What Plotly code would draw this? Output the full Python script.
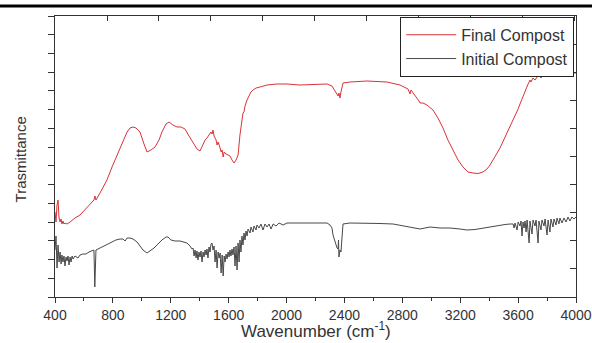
import plotly.graph_objects as go

# Final Compost (red) – wavenumber (cm-1) and transmittance (arbitrary units)
final_wn = [
    400, 407, 414, 421, 428, 435, 442, 448, 455, 462,
    469, 483, 504, 538, 573, 607, 642, 669, 676, 683,
    711, 759, 794, 828, 863, 884, 898, 918, 939, 960,
    987, 1015, 1036, 1063, 1091, 1119, 1139, 1167, 1188, 1215,
    1243, 1271, 1298, 1326, 1354, 1381, 1402, 1423, 1437, 1450,
    1464, 1478, 1485, 1492, 1499, 1513, 1520, 1527, 1541, 1548,
    1555, 1562, 1569, 1582, 1596, 1609, 1623, 1637, 1651, 1665,
    1678, 1692, 1699, 1706, 1713, 1727, 1741, 1754, 1768, 1789,
    1817, 1865, 1934, 2003, 2093, 2280, 2314, 2342, 2356, 2362,
    2369, 2376, 2390, 2438, 2556, 2694, 2784, 2839, 2853, 2860,
    2888, 2915, 2922, 2943, 2970, 3012, 3046, 3081, 3115, 3150,
    3185, 3219, 3254, 3288, 3323, 3357, 3385, 3406, 3440, 3475,
    3510, 3544, 3565, 3579, 3600, 3613, 3634, 3655, 3669, 3682,
    3689, 3703, 3717, 3731, 3744, 3758, 3772, 3786, 3800, 3813,
    3827, 3841, 3855, 3869, 3882, 3903, 3924, 3945, 3966, 3987,
    4000,
]
final_t = [
    85, 75, 92, 97, 79, 75, 78, 73, 76, 73,
    74, 73, 75, 79, 82, 87, 93, 97, 101, 97,
    104, 117, 130, 141, 154, 160, 165, 169, 170, 169,
    165, 153, 145, 147, 150, 157, 165, 173, 175, 172,
    170, 170, 168, 161, 154, 148, 146, 152, 157, 159,
    162, 165, 163, 167, 161, 157, 152, 155, 149, 145,
    147, 140, 145, 143, 142, 141, 137, 134, 137, 142,
    162, 180, 184, 185, 191, 197, 201, 205, 207, 209,
    210, 212, 213, 213, 212, 213, 211, 205, 201, 204,
    199, 205, 214, 215, 216, 215, 212, 208, 203, 207,
    202, 196, 194, 194, 192, 187, 179, 169, 157, 147,
    137, 130, 125, 124, 123.5, 125, 128, 132, 140, 149,
    160, 170, 177, 181, 188, 193, 201, 209, 213, 217,
    215, 219, 217, 220, 222, 219, 223, 221, 223, 220,
    222, 220, 223, 221, 222, 221, 223, 223, 224, 224,
    224,
]

# Initial Compost (grey)
initial_wn = [
    400, 407, 414, 421, 428, 435, 442, 448, 455, 462,
    469, 476, 483, 490, 497, 504, 511, 518, 525, 538,
    559, 573, 593, 614, 635, 656, 669, 675, 683, 711,
    739, 766, 794, 821, 849, 870, 884, 898, 918, 939,
    967, 987, 1008, 1036, 1056, 1084, 1112, 1139, 1167, 1181,
    1201, 1229, 1264, 1291, 1312, 1333, 1347, 1354, 1361, 1368,
    1375, 1381, 1388, 1395, 1402, 1409, 1416, 1423, 1430, 1437,
    1444, 1450, 1457, 1464, 1471, 1478, 1485, 1492, 1499, 1506,
    1513, 1520, 1527, 1534, 1541, 1548, 1555, 1562, 1569, 1575,
    1582, 1589, 1596, 1603, 1609, 1616, 1623, 1630, 1637, 1644,
    1651, 1658, 1665, 1672, 1678, 1685, 1692, 1699, 1706, 1713,
    1720, 1727, 1734, 1748, 1754, 1768, 1775, 1789, 1796, 1810,
    1823, 1837, 1851, 1865, 1879, 1893, 1907, 1927, 1948, 1976,
    2003, 2072, 2162, 2280, 2300, 2314, 2321, 2335, 2349, 2356,
    2359, 2362, 2369, 2376, 2383, 2390, 2438, 2556, 2646, 2736,
    2819, 2888, 2922, 2957, 2991, 3060, 3129, 3199, 3247, 3302,
    3357, 3406, 3475, 3510, 3544, 3565, 3572, 3579, 3593, 3600,
    3613, 3620, 3627, 3634, 3641, 3648, 3655, 3662, 3676, 3682,
    3696, 3703, 3717, 3724, 3738, 3744, 3758, 3765, 3779, 3786,
    3800, 3807, 3820, 3827, 3841, 3848, 3862, 3869, 3882, 3889,
    3903, 3917, 3931, 3945, 3958, 3972, 3986, 4000,
]
initial_t = [
    47, 61, 29, 52, 35, 45, 33, 42, 35, 41,
    31, 40, 36, 41, 32, 40, 35, 41, 38, 41,
    39, 42, 43, 43, 45, 46, 47, 10, 47, 49,
    51, 53, 55, 57, 58, 58, 56, 59, 59, 58,
    55, 51, 47, 44, 46, 49, 53, 57, 60, 60,
    57, 56, 56, 55, 54, 51, 48, 49, 41, 47,
    39, 46, 37, 45, 40, 46, 35, 45, 40, 47,
    42, 48, 39, 50, 45, 53, 54, 47, 51, 35,
    47, 29, 45, 39, 44, 24, 42, 21, 41, 35,
    43, 38, 45, 40, 47, 41, 48, 42, 50, 31,
    51, 27, 54, 35, 57, 45, 61, 52, 64, 57,
    66, 61, 68, 64, 70, 65, 71, 67, 72, 69,
    73, 67, 73, 70, 73, 68, 73, 71, 74, 72,
    74, 74, 74, 74, 72, 69, 62, 54, 49, 48,
    57, 40, 47, 45, 57, 73, 74, 74, 73.5, 73,
    71, 69, 68, 69, 70, 69, 69, 68, 67, 67.5,
    69, 70, 72, 72.5, 73, 73, 69, 74, 67, 75,
    71, 76, 61, 75, 69, 76, 65, 77, 54, 76,
    63, 77, 71, 77, 54, 76, 67, 77, 71, 78,
    62, 77, 65, 78, 70, 78, 72, 79, 73, 79,
    74, 79, 75, 80, 76, 80, 78, 80,
]

x_ticks = [400, 800, 1200, 1600, 2000, 2400, 2800, 3200, 3600, 4000]
series_names = ["Final Compost", "Initial Compost"]

FONT = "Arial, 'Liberation Sans', sans-serif"
AX = "#333333"

fig = go.Figure()
fig.add_trace(go.Scatter(x=final_wn, y=final_t, mode="lines", name=series_names[0],
                         line=dict(color="#d8333a", width=1)))
fig.add_trace(go.Scatter(x=initial_wn, y=initial_t, mode="lines", name=series_names[1],
                         line=dict(color="#484848", width=1)))
# empty trace to activate the secondary (top/right) frame axes
fig.add_trace(go.Scatter(x=[], y=[], xaxis="x2", yaxis="y2", showlegend=False, hoverinfo="skip"))

fig.update_layout(
    width=592, height=343,
    margin=dict(l=55, r=16, t=16, b=46, autoexpand=False),
    paper_bgcolor="white", plot_bgcolor="white",
    font=dict(family=FONT, color=AX),
    showlegend=True,
    legend=dict(x=0.9965, y=0.997, xanchor="right", yanchor="top",
                bgcolor="white", bordercolor="#222222", borderwidth=1,
                font=dict(size=16, color="#333333"), tracegroupgap=0,
                itemwidth=50),
    xaxis=dict(range=[400, 4000], tickvals=x_ticks, ticks="outside", ticklen=5,
               tickcolor=AX, showline=True, linecolor=AX, linewidth=1, automargin=False,
               showgrid=False, zeroline=False, tickfont=dict(size=14, color="#333333"),
               minor=dict(dtick=200, tick0=400, ticks="outside", ticklen=3, tickcolor=AX)),
    yaxis=dict(range=[0, 281], dtick=281 / 15, tick0=0, ticks="outside", ticklen=6,
               tickcolor=AX, showline=True, linecolor=AX, linewidth=1, automargin=False,
               showgrid=False, zeroline=False, showticklabels=False),
    xaxis2=dict(overlaying="x", side="top", range=[0, 10.02], dtick=1, tick0=0,
                ticks="inside", ticklen=5, tickcolor=AX, showline=True, linecolor=AX,
                linewidth=1, showgrid=False, zeroline=False, showticklabels=False,
                automargin=False),
    yaxis2=dict(overlaying="y", side="right", range=[0, 10], dtick=1, tick0=0,
                ticks="inside", ticklen=6, tickcolor=AX, showline=True, linecolor=AX,
                linewidth=1, showgrid=False, zeroline=False, showticklabels=False,
                automargin=False),
    annotations=[
        dict(text="Wavenumber (cm<sup>-1</sup>)", xref="paper", yref="paper",
             x=0.5, y=-0.118, xanchor="center", yanchor="middle", showarrow=False,
             font=dict(size=17, color="#333333")),
        dict(text="Trasmittance", xref="paper", yref="paper", textangle=-90,
             x=-0.067, y=0.49, xanchor="center", yanchor="middle", showarrow=False,
             font=dict(size=15, color="#333333")),
    ],
    shapes=[
        dict(type="line", xref="paper", yref="paper", x0=-0.11, x1=1.04,
             y0=1.036, y1=1.036, line=dict(color="black", width=3)),
    ],
)

fig.write_html("out.html", config={"displayModeBar": False},
               post_script="document.body.style.margin='0';")
